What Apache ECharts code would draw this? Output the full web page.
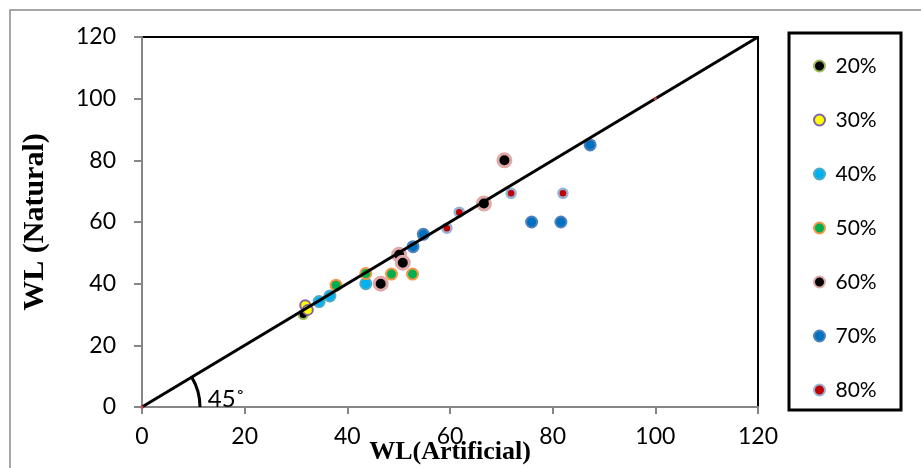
<!DOCTYPE html>
<html>
<head>
<meta charset="utf-8">
<script src="https://cdn.jsdelivr.net/npm/echarts@6/dist/echarts.min.js"></script>
<style>html,body{margin:0;padding:0;background:#fff}#c{width:921px;height:468px}</style>
</head>
<body>
<div id="c"></div>
<script>
var seriesNames = ['20%', '30%', '40%', '50%', '60%', '70%', '80%'];
var s20 = [[31.4, 30]];
var s30 = [[31.8, 33], [32.3, 31.5]];
var s40 = [[34.5, 34.2], [36.6, 36], [43.6, 40]];
var s50 = [[37.8, 39.5], [43.6, 43.3], [48.6, 43.1], [52.7, 43.1]];
var s60 = [[46.5, 40], [50.1, 49.4], [50.8, 46.8], [66.6, 66], [70.6, 80]];
var s70 = [[52.8, 52], [54.8, 56], [75.9, 60], [81.6, 60], [87.3, 85]];
var s80 = [[59.4, 58], [61.8, 63.2], [71.9, 69.3], [82, 69.3]];
var refLine = [[0, 0], [120, 120]];
var refPoints = [[0, 0], [100, 100]];
var xTicks = [0, 20, 40, 60, 80, 100, 120];
var yTicks = [0, 20, 40, 60, 80, 100, 120];
var xTitle = 'WL(Artificial)';
var yTitle = 'WL (Natural)';
var angleLabel = '45˚';

var styles = [
  {fill: '#000000', border: '#9BBB59', size: 9, bw: 2},
  {fill: '#FFFF00', border: '#8064A2', size: 10, bw: 2},
  {fill: '#00B0F0', border: '#4BACC6', size: 11, bw: 2},
  {fill: '#00B050', border: '#F79646', size: 11, bw: 2},
  {fill: '#000000', border: '#E0A8A6', size: 13, bw: 3},
  {fill: '#0070C0', border: '#4F81BD', size: 11, bw: 2},
  {fill: '#C00000', border: '#95B3D7', size: 9, bw: 2.5}
];
var dataSets = [s20, s30, s40, s50, s60, s70, s80];

var chart = echarts.init(document.getElementById('c'));
var axisGray = '#868686';
var labelFont = 'Lato, "Open Sans", sans-serif';
var serifFont = '"Liberation Serif", "Times New Roman", serif';

var series = dataSets.map(function (d, i) {
  return {
    name: seriesNames[i], type: 'scatter', data: d,
    symbol: 'circle', symbolSize: styles[i].size, z: 3,
    itemStyle: {color: styles[i].fill, borderColor: styles[i].border, borderWidth: styles[i].bw, opacity: 1}
  };
});
series.push({
  name: 'line', type: 'line', data: refLine, showSymbol: false, symbol: 'none', z: 5,
  lineStyle: {color: '#000', width: 3}, silent: true
});
series.push({
  name: 'ref', type: 'scatter', data: refPoints, symbol: 'rect', symbolSize: 3, z: 6,
  itemStyle: {color: '#E05050'}, silent: true
});

chart.setOption({
  animation: false,
  grid: {left: 142, right: 163, top: 37, bottom: 61, outerBoundsMode: 'none', containLabel: false,
    show: true, borderColor: '#000', borderWidth: 2, backgroundColor: 'transparent'},
  xAxis: {
    type: 'value', min: 0, max: 120, interval: 20,
    axisLine: {show: true, lineStyle: {color: axisGray, width: 2}},
    axisTick: {show: true, inside: false, length: 7, lineStyle: {color: axisGray, width: 2}},
    splitLine: {show: false},
    axisLabel: {fontSize: 23, fontFamily: labelFont, color: '#000', margin: 18,
      formatter: function (v) { return xTicks.indexOf(v) >= 0 ? String(v) : ''; }},
    name: xTitle, nameLocation: 'middle', nameGap: 32, nameMoveOverlap: false,
    nameTextStyle: {fontFamily: serifFont, fontWeight: 'bold', fontSize: 26, color: '#000'}
  },
  yAxis: {
    type: 'value', min: 0, max: 120, interval: 20,
    axisLine: {show: true, lineStyle: {color: axisGray, width: 2}},
    axisTick: {show: true, inside: false, length: 8, lineStyle: {color: axisGray, width: 2}},
    splitLine: {show: false},
    axisLabel: {fontSize: 23, fontFamily: labelFont, color: '#000', margin: 26,
      formatter: function (v) { return yTicks.indexOf(v) >= 0 ? String(v) : ''; }},
    name: yTitle, nameLocation: 'middle', nameGap: 92, nameRotate: 90, nameMoveOverlap: false,
    nameTextStyle: {fontFamily: serifFont, fontWeight: 'bold', fontSize: 30, color: '#000'}
  },
  legend: {
    data: seriesNames, orient: 'vertical', left: 808, top: 50,
    icon: 'circle', itemWidth: 22, itemHeight: 11, itemGap: 32,
    textStyle: {fontSize: 21, fontFamily: labelFont, color: '#000', lineHeight: 22}
  },
  series: series
});

function drawDecor() {
  var o = chart.convertToPixel({gridIndex: 0}, [0, 0]);
  var p = chart.convertToPixel({gridIndex: 0}, [120, 120]);
  var ang = Math.atan2(o[1] - p[1], p[0] - o[0]);
  var t = chart.convertToPixel({gridIndex: 0}, [12.8, 0]);
  chart.setOption({
    graphic: [
      {type: 'rect', shape: {x: 10, y: 10, width: 1000, height: 1000}, style: {fill: 'none', stroke: '#8a8a8a', lineWidth: 1.5}, silent: true, z: 0},
      {type: 'rect', shape: {x: 789, y: 33, width: 112, height: 377}, style: {fill: 'none', stroke: '#000', lineWidth: 3}, silent: true},
      {type: 'arc', shape: {cx: o[0], cy: o[1], r: 58, startAngle: -ang, endAngle: 0}, style: {fill: 'none', stroke: '#000', lineWidth: 3}, silent: true, z: 10},
      {type: 'text', x: t[0], y: t[1] + 4, style: {text: angleLabel, font: '24px ' + labelFont, fill: '#000', verticalAlign: 'bottom'}, silent: true, z: 10}
    ]
  });
}
drawDecor();
</script>
</body>
</html>
